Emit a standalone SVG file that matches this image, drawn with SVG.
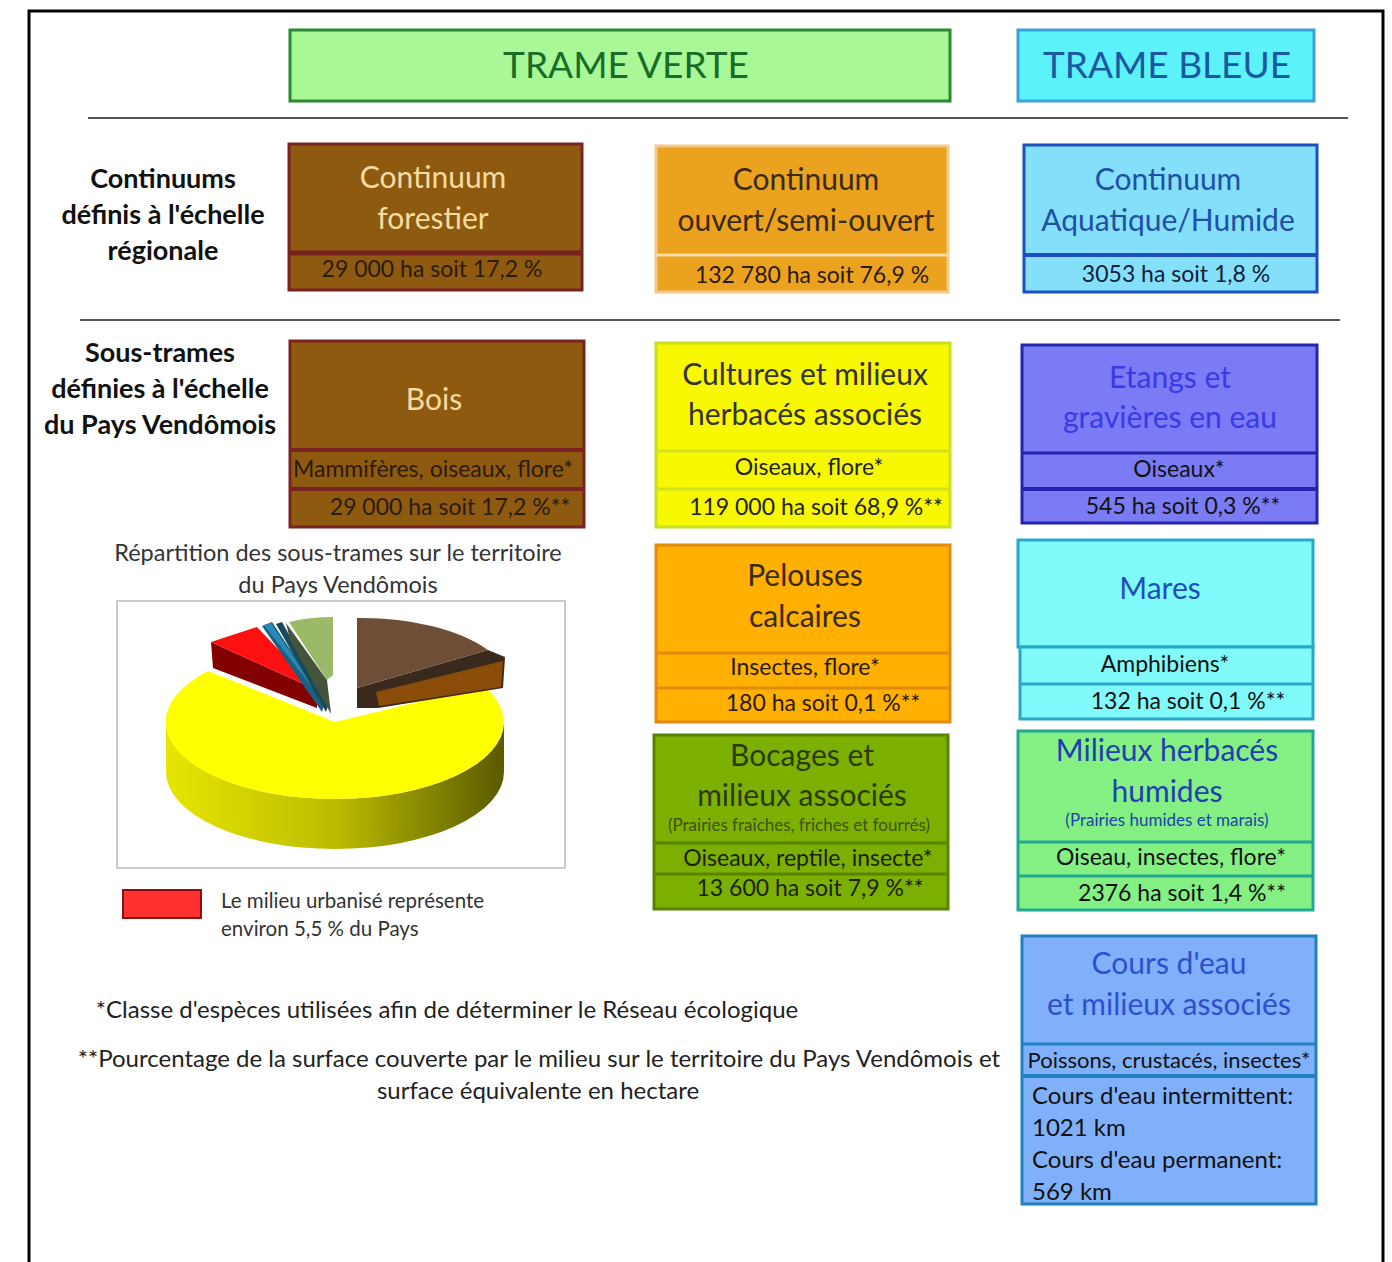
<svg xmlns="http://www.w3.org/2000/svg" width="1392" height="1262" viewBox="0 0 1392 1262">
<defs>
<style>
text{font-family:Lato,"Open Sans","Liberation Sans",sans-serif;text-anchor:middle}
.t{font-size:30px}
.s{font-size:23px}
.xs{font-size:17px}
.lbl{font-size:27px;font-weight:bold;fill:#111}
.foot{font-size:24px;fill:#222}
.brown{fill:#8e5a10;stroke:#7a2222;stroke-width:3}
.tan{fill:#f6dca2}
.dk{fill:#2a1a08}
</style>
<linearGradient id="side" x1="0" y1="0" x2="1" y2="0">
<stop offset="0" stop-color="#e6e600"/>
<stop offset="0.5" stop-color="#bcbc00"/>
<stop offset="1" stop-color="#5a5a00"/>
</linearGradient>
</defs>
<rect x="0" y="0" width="1392" height="1262" fill="#fff"/>
<path d="M29 1262 V11 H1383 V1262" fill="none" stroke="#000" stroke-width="3"/>

<g id="connectors">
<line x1="88" y1="118" x2="1348" y2="118" stroke="#555" stroke-width="2"/>
<line x1="80" y1="320" x2="1340" y2="320" stroke="#555" stroke-width="2"/>
</g>

<g id="trame-verte">
<rect x="290" y="30" width="660" height="71" fill="#a8f898" stroke="#2a8a30" stroke-width="3"/>
<text x="626" y="78" style="font-size:37px;fill:#1b6b28">TRAME VERTE</text>
</g>
<g id="trame-bleue">
<rect x="1018" y="30" width="296" height="71" fill="#5cf2fa" stroke="#3aa0d8" stroke-width="3"/>
<text x="1167" y="78" style="font-size:37px;fill:#1a58a0">TRAME BLEUE</text>
</g>

<g id="label-continuums">
<text class="lbl" x="163" y="188">Continuums</text>
<text class="lbl" x="163" y="224">définis à l'échelle</text>
<text class="lbl" x="163" y="260">régionale</text>
</g>
<g id="label-sous-trames">
<text class="lbl" x="160" y="362">Sous-trames</text>
<text class="lbl" x="160" y="398">définies à l'échelle</text>
<text class="lbl" x="160" y="434">du Pays Vendômois</text>
</g>

<g id="continuum-forestier">
<rect class="brown" x="289" y="144" width="293" height="146"/>
<line x1="289" y1="253" x2="582" y2="253" stroke="#7a2222" stroke-width="5"/>
<text class="t tan" x="433" y="188">Continuum</text>
<text class="t tan" x="433" y="229">forestier</text>
<text class="s dk" x="432" y="277">29 000 ha soit 17,2 %</text>
</g>
<g id="continuum-ouvert">
<rect x="656" y="146" width="292" height="146" fill="#eba21f" stroke="#f2c98a" stroke-width="3"/>
<line x1="656" y1="255" x2="948" y2="255" stroke="#f7dcaa" stroke-width="3"/>
<text class="t" x="806" y="190" fill="#3a2a10">Continuum</text>
<text class="t" x="806" y="231" fill="#3a2a10">ouvert/semi-ouvert</text>
<text class="s" x="812" y="283" fill="#2a1a08">132 780 ha soit 76,9 %</text>
</g>
<g id="continuum-aquatique">
<rect x="1024" y="145" width="293" height="147" fill="#84e0fa" stroke="#1f4fbf" stroke-width="3"/>
<line x1="1024" y1="255" x2="1317" y2="255" stroke="#1f4fbf" stroke-width="4"/>
<text class="t" x="1168" y="190" fill="#1f4fa8">Continuum</text>
<text class="t" x="1168" y="231" fill="#1f4fa8">Aquatique/Humide</text>
<text class="s" x="1176" y="282" fill="#12203a">3053 ha soit 1,8 %</text>
</g>

<g id="bois">
<rect class="brown" x="290" y="341" width="294" height="186"/>
<line x1="290" y1="450" x2="584" y2="450" stroke="#7a2222" stroke-width="4"/>
<line x1="290" y1="489" x2="584" y2="489" stroke="#7a2222" stroke-width="4"/>
<text class="t tan" x="434" y="410">Bois</text>
<text class="s dk" x="433" y="477">Mammifères, oiseaux, flore*</text>
<text class="s dk" x="450" y="515">29 000 ha soit 17,2 %**</text>
</g>
<g id="cultures">
<rect x="656" y="343" width="294" height="184" fill="#f8f800" stroke="#c8e020" stroke-width="3"/>
<line x1="656" y1="451" x2="950" y2="451" stroke="#d2e020" stroke-width="3"/>
<line x1="656" y1="489" x2="950" y2="489" stroke="#d2e020" stroke-width="3"/>
<text class="t" x="805" y="385" fill="#333">Cultures et milieux</text>
<text class="t" x="805" y="425" fill="#333">herbacés associés</text>
<text class="s" x="809" y="475" fill="#222">Oiseaux, flore*</text>
<text class="s" x="816" y="515" fill="#222">119 000 ha soit 68,9 %**</text>
</g>
<g id="etangs">
<rect x="1022" y="345" width="295" height="178" fill="#7b7bf5" stroke="#2424b0" stroke-width="3"/>
<line x1="1022" y1="453" x2="1317" y2="453" stroke="#2424b0" stroke-width="3"/>
<line x1="1022" y1="489" x2="1317" y2="489" stroke="#2424b0" stroke-width="4"/>
<text class="t" x="1170" y="388" fill="#3a3ae6">Etangs et</text>
<text class="t" x="1170" y="428" fill="#3a3ae6">gravières en eau</text>
<text class="s" x="1179" y="477" fill="#111">Oiseaux*</text>
<text class="s" x="1183" y="514" fill="#111">545 ha soit 0,3 %**</text>
</g>

<g id="graphique">
<text x="338" y="561" style="font-size:23.5px;fill:#333">Répartition des sous-trames sur le territoire</text>
<text x="338" y="593" style="font-size:23.5px;fill:#333">du Pays Vendômois</text>
<rect x="117" y="601" width="448" height="267" fill="#fff" stroke="#bbb" stroke-width="1.5"/>
<path d="M504 722 A169 77 0 0 1 166 722 L166 772 A169 77 0 0 0 504 772 Z" fill="url(#side)"/>
<path d="M335 722 L484 686 A169 77 0 1 1 208 671 Z" fill="#ffff00"/>
<path d="M357 688 L488 650 L505 657 L503 688 L378 708 L357 708 Z" fill="#3a2a1e"/>
<path d="M376 692 L503 661 L501 687 L379 706 Z" fill="#8a4c08"/>
<path d="M357 688 L357 618 A150 70 0 0 1 488 650 Z" fill="#6e4e36"/>
<path d="M211 642 L317 690 L317 708 L213 668 Z" fill="#820000"/>
<path d="M211 642 L257 627 L317 690 Z" fill="#ff1010"/>
<path d="M262 626 L272 622 L325 702 L322 712 Z" fill="#1a6080"/>
<path d="M264 625 L271 623 L322 700 Z" fill="#2a88b8"/>
<path d="M276 624 L282 622 L328 706 L326 712 Z" fill="#1a4a5a"/>
<path d="M286 623 L327 680 L331 714 L290 640 Z" fill="#44543a"/>
<path d="M289 622 Q310 617 333 617 L333 675 L327 680 Z" fill="#9aba6a"/>
</g>
<g id="legende">
<rect x="123" y="890" width="78" height="28" fill="#ff3030" stroke="#8b1010" stroke-width="2"/>
<text x="221" y="908" style="font-size:20.5px;fill:#333;text-anchor:start">Le milieu urbanisé représente</text>
<text x="221" y="936" style="font-size:20.5px;fill:#333;text-anchor:start">environ 5,5 % du Pays</text>
</g>

<g id="pelouses">
<rect x="656" y="545" width="294" height="177" fill="#ffb000" stroke="#e08a10" stroke-width="3"/>
<line x1="656" y1="653" x2="950" y2="653" stroke="#e08a10" stroke-width="3"/>
<line x1="656" y1="688" x2="950" y2="688" stroke="#e08a10" stroke-width="3"/>
<text class="t" x="805" y="586" fill="#3a2a10">Pelouses</text>
<text class="t" x="805" y="627" fill="#3a2a10">calcaires</text>
<text class="s" x="805" y="675" fill="#2a1a08">Insectes, flore*</text>
<text class="s" x="823" y="711" fill="#2a1a08">180 ha soit 0,1 %**</text>
</g>
<g id="bocages">
<rect x="654" y="735" width="294" height="174" fill="#7cb000" stroke="#5a8400" stroke-width="3"/>
<line x1="654" y1="843" x2="948" y2="843" stroke="#5a8400" stroke-width="3"/>
<line x1="654" y1="874" x2="948" y2="874" stroke="#5a8400" stroke-width="3"/>
<text class="t" x="802" y="766" fill="#2a3a08">Bocages et</text>
<text class="t" x="802" y="806" fill="#2a3a08">milieux associés</text>
<text class="xs" x="799" y="831" fill="#3e5218">(Prairies fraîches, friches et fourrés)</text>
<text class="s" x="808" y="866" fill="#1a2208">Oiseaux, reptile, insecte*</text>
<text class="s" x="810" y="896" fill="#1a2208">13 600 ha soit 7,9 %**</text>
</g>

<g id="mares">
<rect x="1018" y="540" width="295" height="107" fill="#80fafa" stroke="#28a8c8" stroke-width="3"/>
<rect x="1020" y="647" width="293" height="72" fill="#80fafa" stroke="#28a8c8" stroke-width="3"/>
<line x1="1020" y1="684" x2="1313" y2="684" stroke="#28a8c8" stroke-width="3"/>
<text class="t" x="1160" y="599" fill="#1f4fb8">Mares</text>
<text class="s" x="1165" y="672" fill="#111">Amphibiens*</text>
<text class="s" x="1188" y="709" fill="#111">132 ha soit 0,1 %**</text>
</g>
<g id="milieux-herbaces">
<rect x="1018" y="731" width="295" height="179" fill="#84f084" stroke="#20a890" stroke-width="3"/>
<line x1="1018" y1="842" x2="1313" y2="842" stroke="#20a890" stroke-width="3"/>
<line x1="1018" y1="876" x2="1313" y2="876" stroke="#20a890" stroke-width="3"/>
<text class="t" x="1167" y="761" fill="#2040b0">Milieux herbacés</text>
<text class="t" x="1167" y="802" fill="#2040b0">humides</text>
<text class="xs" x="1167" y="826" fill="#2040b0">(Prairies humides et marais)</text>
<text class="s" x="1171" y="865" fill="#111">Oiseau, insectes, flore*</text>
<text class="s" x="1182" y="901" fill="#111">2376 ha soit 1,4 %**</text>
</g>
<g id="cours-eau">
<rect x="1022" y="936" width="294" height="268" fill="#80b0fa" stroke="#2080c0" stroke-width="3"/>
<line x1="1022" y1="1044" x2="1316" y2="1044" stroke="#2080c0" stroke-width="3"/>
<line x1="1022" y1="1076" x2="1316" y2="1076" stroke="#2080c0" stroke-width="4"/>
<text class="t" x="1169" y="974" fill="#2f4fd0">Cours d'eau</text>
<text class="t" x="1169" y="1015" fill="#2f4fd0">et milieux associés</text>
<text class="s" x="1169" y="1068" fill="#111" style="font-size:22px">Poissons, crustacés, insectes*</text>
<g style="font-size:24px;fill:#111">
<text x="1032" y="1104" style="text-anchor:start">Cours d'eau intermittent:</text>
<text x="1032" y="1136" style="text-anchor:start">1021 km</text>
<text x="1032" y="1168" style="text-anchor:start">Cours d'eau permanent:</text>
<text x="1032" y="1200" style="text-anchor:start">569 km</text>
</g>
</g>

<g id="notes">
<text class="foot" x="447" y="1018">*Classe d'espèces utilisées afin de déterminer le Réseau écologique</text>
<text class="foot" x="539" y="1067">**Pourcentage de la surface couverte par le milieu sur le territoire du Pays Vendômois et</text>
<text class="foot" x="538" y="1099">surface équivalente en hectare</text>
</g>
</svg>
